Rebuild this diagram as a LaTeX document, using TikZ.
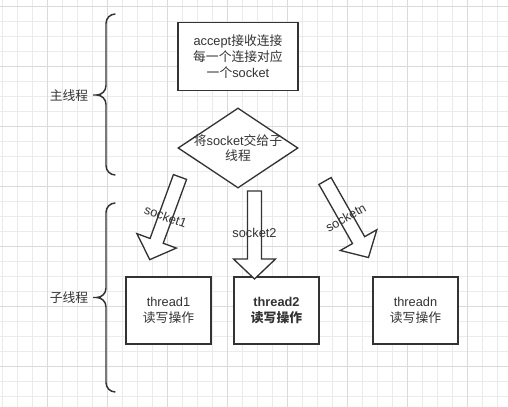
\documentclass[tikz,border=0pt]{standalone}
\usepackage{fontspec}
\setmainfont{Liberation Sans}
\newfontfamily\zhfont{Noto Sans CJK SC}
\newcommand\hz[1]{{\zhfont #1}}
\usetikzlibrary{shapes.geometric}
\definecolor{ink}{HTML}{333333}
\definecolor{gridminor}{HTML}{EBEBEB}
\definecolor{gridmajor}{HTML}{DADADA}
\tikzset{
  box/.style={draw=ink, line width=1pt, fill=white, inner sep=0pt, align=center},
  blockarrow/.style={draw=ink, line width=1pt, fill=white, line join=miter},
  bracket/.style={draw=ink, line width=1.1pt, rounded corners=7}
}
\begin{document}
\begin{tikzpicture}[x=0.75pt, y=-0.75pt, font=\fontsize{9.6}{11.8}\selectfont, text=ink]
            \useasboundingbox (0,0) rectangle (508,407);
            % grid
            \foreach \gx in {0,...,33} \draw[gridminor, line width=0.75pt] (2.3+15*\gx,0) -- (2.3+15*\gx,407);
            \foreach \gy in {0,...,26} \draw[gridminor, line width=0.75pt] (0,6+15*\gy) -- (508,6+15*\gy);
            \foreach \gx in {0,...,7} \draw[gridmajor, line width=0.75pt] (47.3+60*\gx,0) -- (47.3+60*\gx,407);
            \foreach \gy in {0,...,6} \draw[gridmajor, line width=0.75pt] (0,6+60*\gy) -- (508,6+60*\gy);

            \node[box, minimum width=90pt, minimum height=51pt] (accept) at (238,56.7) {accept\hz{接收连接}\\\hz{每一个连接对应}\\\hz{一个}socket};
            \node[box, shape=diamond, minimum width=90pt, minimum height=60pt] (handoff) at (238,148) {};
            \node[align=center, inner sep=0pt] (handtext) at (handoff.center) {\hz{将}socket\hz{交给子}\\\hz{线程}};

            \node[box, minimum width=63.75pt, minimum height=50.25pt] (thread1) at (168.5,310.5) {thread1\\\hz{读写操作}};
            \node[box, minimum width=63.75pt, minimum height=50.25pt] (thread2) at (276.5,310.5) {\textbf{thread2}\\\textbf{\hz{读写操作}}};
            \node[box, minimum width=63.75pt, minimum height=50.25pt] (threadn) at (415.5,310.5) {threadn\\\hz{读写操作}};

            \foreach \tx/\ty/\ang/\lab in {180/177/249.9/socket1, 254.5/191/270/socket2, 325/181/299.6/socketn}{
              \begin{scope}[shift={(\tx,\ty)}, rotate=\ang]
                \draw[blockarrow] (0,-7) -- (68,-7) -- (68,-21) -- (88,0) -- (68,21) -- (68,7) -- (0,7) -- cycle;
                \node[rotate=\ang-270, inner sep=0pt] (\lab) at (42,0) {\lab};
              \end{scope}
            }

            \draw[bracket] (115,14) -- (106,14) -- (106,95) -- (93,95) (93,95) -- (106,95) -- (106,175) -- (115,175);
            \draw[bracket] (115,203) -- (106,203) -- (106,297.5) -- (93,297.5) (93,297.5) -- (106,297.5) -- (106,392) -- (115,392);
            \node[anchor=east, inner sep=0pt] (mainthread) at (88.5,96) {\hz{主线程}};
            \node[anchor=east, inner sep=0pt] (subthread) at (88.5,297.7) {\hz{子线程}};
          \end{tikzpicture}
\end{document}
